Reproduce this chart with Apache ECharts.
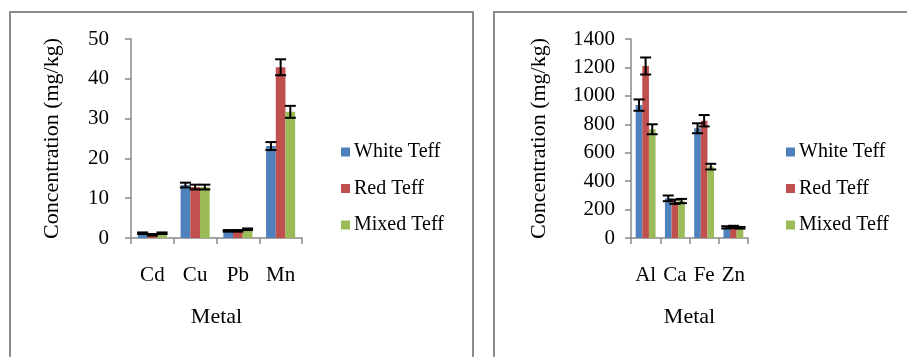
<!DOCTYPE html>
<html>
<head>
<meta charset="utf-8">
<script src="https://cdn.jsdelivr.net/npm/echarts@6/dist/echarts.min.js"></script>
<style>
html,body{margin:0;padding:0;background:#fff;}
#c{width:907px;height:357px;}
</style>
</head>
<body>
<div id="c"></div>
<script>
// ---- data ----
const seriesNames = ['White Teff', 'Red Teff', 'Mixed Teff'];
const colors = ['#4f81bd', '#c0504d', '#9bbb59'];

const categoriesLeft = ['Cd', 'Cu', 'Pb', 'Mn'];
const whiteLeft = [1.2, 13.3, 1.8, 23.1];
const redLeft = [0.8, 12.8, 1.8, 42.9];
const mixedLeft = [1.2, 12.8, 2.2, 31.7];
const whiteLeftErr = [0.2, 0.6, 0.2, 1.0];
const redLeftErr = [0.2, 0.6, 0.2, 2.0];
const mixedLeftErr = [0.2, 0.6, 0.2, 1.5];

const categoriesRight = ['Al', 'Ca', 'Fe', 'Zn'];
const whiteRight = [935, 279, 772, 75];
const redRight = [1210, 255, 825, 78];
const mixedRight = [765, 260, 502, 72];
const whiteRightErr = [40, 20, 35, 8];
const redRightErr = [60, 15, 40, 8];
const mixedRightErr = [35, 15, 20, 6];

const yTicksLeft = { min: 0, max: 50, interval: 10 };
const yTicksRight = { min: 0, max: 1400, interval: 200 };

// ---- chart ----
const FONT = '"Liberation Serif", "Times New Roman", serif';
const GAP = 0.32;
const axisColor = '#898989';

function bar(name, data, ax, color) {
  return {
    name: name, type: 'bar', xAxisIndex: ax, yAxisIndex: ax, data: data,
    barGap: '0%', barCategoryGap: (GAP * 100) + '%',
    itemStyle: { color: color }, z: 2
  };
}
function err(vals, errs, ax, pos) {
  return {
    type: 'custom', xAxisIndex: ax, yAxisIndex: ax, silent: true, z: 10,
    encode: { x: 0, y: 1 },
    data: vals.map((v, i) => [i, v, errs[i]]),
    renderItem: function (params, api) {
      const i = api.value(0), v = api.value(1), e = api.value(2);
      const band = api.size([1, 0])[0];
      const bw = band * (1 - GAP) / 3;
      const c = api.coord([i, v]);
      const x = c[0] + (pos - 1) * bw;
      const top = api.coord([i, v + e])[1];
      const bot = api.coord([i, v - e])[1];
      const cap = 5.5;
      const st = { stroke: '#000', lineWidth: 2 };
      return {
        type: 'group',
        children: [
          { type: 'line', shape: { x1: x, y1: top, x2: x, y2: bot }, style: st },
          { type: 'line', shape: { x1: x - cap, y1: top, x2: x + cap, y2: top }, style: st },
          { type: 'line', shape: { x1: x - cap, y1: bot, x2: x + cap, y2: bot }, style: st }
        ]
      };
    }
  };
}
function xAx(idx, cats) {
  return {
    type: 'category', gridIndex: idx, data: cats,
    name: 'Metal', nameLocation: 'middle', nameGap: 68,
    nameTextStyle: { fontFamily: FONT, fontSize: 22, color: '#000' },
    axisLine: { lineStyle: { color: axisColor, width: 1.5 } },
    axisTick: { show: true, length: 6, lineStyle: { color: axisColor, width: 1.5 } },
    axisLabel: { fontFamily: FONT, fontSize: 21, color: '#000', margin: 27, interval: 0 }
  };
}
function yAx(idx, t, labelMargin, nameGap) {
  return {
    type: 'value', gridIndex: idx, min: t.min, max: t.max, interval: t.interval,
    name: 'Concentration (mg/kg)', nameLocation: 'middle', nameGap: nameGap,
    nameTextStyle: { fontFamily: FONT, fontSize: 22, color: '#000' },
    axisLine: { show: true, lineStyle: { color: axisColor, width: 1.5 } },
    axisTick: { show: true, length: 6, lineStyle: { color: axisColor, width: 1.5 } },
    axisLabel: { fontFamily: FONT, fontSize: 21, color: '#000', margin: labelMargin,
      formatter: function (v) { return String(v); } },
    splitLine: { show: false }
  };
}
function leg(left) {
  return {
    data: seriesNames, orient: 'vertical', left: left, top: 142, padding: 0,
    icon: 'rect', itemWidth: 9, itemHeight: 9, itemGap: 16.5, selectedMode: false,
    textStyle: { fontFamily: FONT, fontSize: 20, color: '#000', lineHeight: 20, padding: [0, 0, 0, -1] }
  };
}

const chart = echarts.init(document.getElementById('c'), null, { renderer: 'canvas' });
chart.setOption({
  animation: false,
  color: colors,
  graphic: [
    { type: 'rect', shape: { x: 10, y: 12, width: 463, height: 400 }, style: { fill: 'none', stroke: '#8c8c8c', lineWidth: 2 }, z: 0 },
    { type: 'rect', shape: { x: 494, y: 12, width: 500, height: 400 }, style: { fill: 'none', stroke: '#8c8c8c', lineWidth: 2 }, z: 0 }
  ],
  grid: [
    { left: 131, top: 39, width: 171, height: 199 },
    { left: 631, top: 39, width: 117, height: 199 }
  ],
  legend: [leg(341), leg(786)],
  xAxis: [xAx(0, categoriesLeft), xAx(1, categoriesRight)],
  yAxis: [yAx(0, yTicksLeft, 22, 68), yAx(1, yTicksRight, 16, 81)],
  series: [
    bar(seriesNames[0], whiteLeft, 0, colors[0]),
    bar(seriesNames[1], redLeft, 0, colors[1]),
    bar(seriesNames[2], mixedLeft, 0, colors[2]),
    bar(seriesNames[0], whiteRight, 1, colors[0]),
    bar(seriesNames[1], redRight, 1, colors[1]),
    bar(seriesNames[2], mixedRight, 1, colors[2]),
    err(whiteLeft, whiteLeftErr, 0, 0),
    err(redLeft, redLeftErr, 0, 1),
    err(mixedLeft, mixedLeftErr, 0, 2),
    err(whiteRight, whiteRightErr, 1, 0),
    err(redRight, redRightErr, 1, 1),
    err(mixedRight, mixedRightErr, 1, 2)
  ]
});
</script>
</body>
</html>
